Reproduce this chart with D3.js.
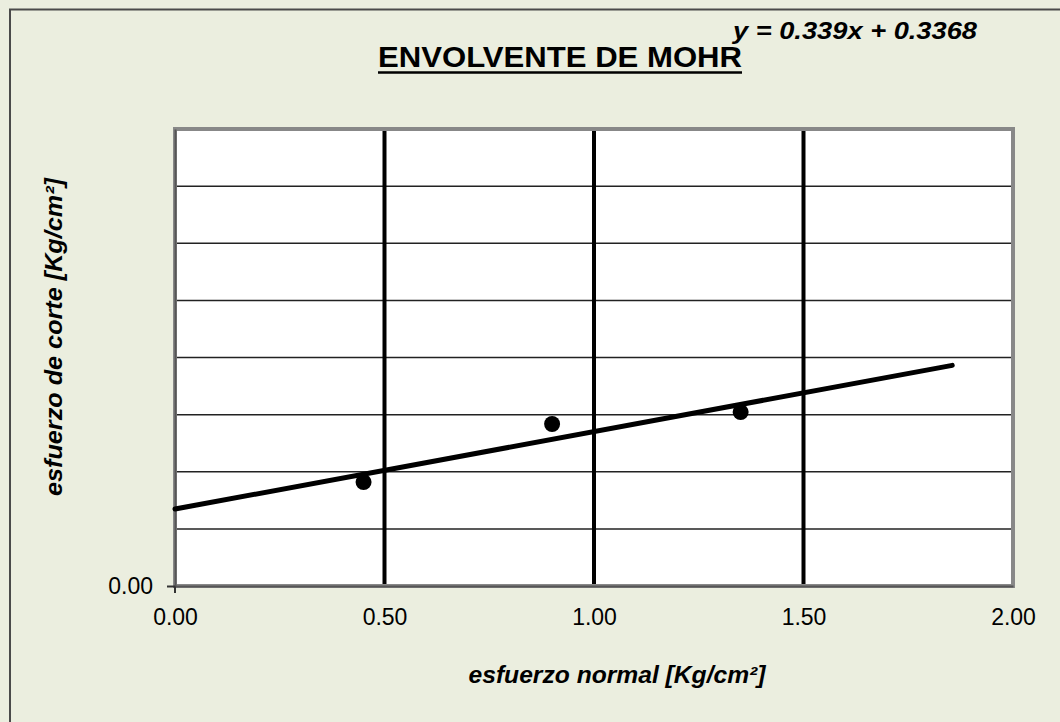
<!DOCTYPE html>
<html>
<head>
<meta charset="utf-8">
<script src="https://cdn.jsdelivr.net/npm/d3@7"></script>
<style>
    html, body { margin: 0; padding: 0; background: #ebeedf; }
    svg { display: block; font-family: "Liberation Sans", Arial, sans-serif; }
</style>
</head>
<body>
<div id="mohr-chart"><svg></svg></div>
<script>
// Data
const chartTitle = "ENVOLVENTE DE MOHR";
const xAxisTitle = "esfuerzo normal [Kg/cm²]";
const yAxisTitle = "esfuerzo de corte [Kg/cm²]";
const xTickValues = [0, 0.5, 1, 1.5, 2];
const yGridValues = [0.25, 0.5, 0.75, 1, 1.25, 1.5, 1.75];
const yTickLabels = [0];
const normalStress = [0.45, 0.90, 1.35];
const shearStress = [0.455, 0.709, 0.761];
const trendSlope = 0.339;
const trendIntercept = 0.3368;
const trendRange = [0, 1.855];
const trendLabel = "y = 0.339x + 0.3368";

(function () {
    // Set dimensions
    const width = 1060;
    const height = 722;
    const plot = { left: 175, right: 1013, top: 129, bottom: 586 };

    const svg = d3.select("#mohr-chart svg")
        .attr("width", width)
        .attr("height", height);

    // Chart area background and frame
    svg.append("rect")
        .attr("x", 0).attr("y", 0)
        .attr("width", width).attr("height", height)
        .attr("fill", "#ebeedf");

    svg.append("path")
        .attr("d", `M10,${height + 5} L10,9.5 L${width + 5},9.5`)
        .attr("fill", "none")
        .attr("stroke", "#4a4a4a")
        .attr("stroke-width", 2);

    // Scales
    const x = d3.scaleLinear().domain([0, 2]).range([plot.left, plot.right]);
    const y = d3.scaleLinear().domain([0, 2]).range([plot.bottom, plot.top]);

    // Plot area
    svg.append("rect")
        .attr("x", plot.left)
        .attr("y", plot.top)
        .attr("width", plot.right - plot.left)
        .attr("height", plot.bottom - plot.top)
        .attr("fill", "white");

    // Horizontal gridlines (thin)
    svg.append("g")
        .selectAll("line")
        .data(yGridValues)
        .join("line")
        .attr("x1", plot.left)
        .attr("x2", plot.right)
        .attr("y1", d => y(d))
        .attr("y2", d => y(d))
        .attr("stroke", "#222")
        .attr("stroke-width", 1.5);

    // Vertical gridlines (thick)
    svg.append("g")
        .selectAll("line")
        .data(xTickValues.filter(d => d > 0 && d < 2))
        .join("line")
        .attr("x1", d => x(d))
        .attr("x2", d => x(d))
        .attr("y1", plot.top)
        .attr("y2", plot.bottom)
        .attr("stroke", "black")
        .attr("stroke-width", 4);

    // Plot border (grey)
    svg.append("rect")
        .attr("x", plot.left)
        .attr("y", plot.top)
        .attr("width", plot.right - plot.left)
        .attr("height", plot.bottom - plot.top)
        .attr("fill", "none")
        .attr("stroke", "#888")
        .attr("stroke-width", 4);

    // X axis
    const xAxis = svg.append("g")
        .attr("transform", `translate(0, ${plot.bottom})`)
        .call(d3.axisBottom(x)
            .tickValues(xTickValues)
            .tickFormat(d3.format(".2f"))
            .tickSize(0)
            .tickPadding(23));
    xAxis.select(".domain")
        .attr("stroke", "#555")
        .attr("stroke-width", 2);
    xAxis.selectAll("text")
        .attr("font-size", "23px")
        .attr("fill", "black");

    // tick mark at origin only
    svg.append("line")
        .attr("x1", x(0)).attr("x2", x(0))
        .attr("y1", plot.bottom).attr("y2", plot.bottom + 7)
        .attr("stroke", "#333").attr("stroke-width", 2);

    // Y axis (only origin label shown)
    const yAxis = svg.append("g")
        .attr("transform", `translate(${plot.left}, 0)`)
        .call(d3.axisLeft(y)
            .tickValues(yTickLabels)
            .tickFormat(d3.format(".2f"))
            .tickSizeInner(8)
            .tickSizeOuter(0)
            .tickPadding(14));
    yAxis.select(".domain")
        .attr("stroke", "#555")
        .attr("stroke-width", 2);
    yAxis.selectAll(".tick line")
        .attr("stroke", "#333")
        .attr("stroke-width", 2);
    yAxis.selectAll("text")
        .attr("font-size", "23px")
        .attr("fill", "black");

    // Trend line
    const line = d3.line()
        .x(d => x(d))
        .y(d => y(trendSlope * d + trendIntercept));

    svg.append("path")
        .datum(trendRange)
        .attr("d", line)
        .attr("fill", "none")
        .attr("stroke", "black")
        .attr("stroke-width", 5)
        .attr("stroke-linecap", "round");

    // Data points
    svg.append("g")
        .selectAll("circle")
        .data(normalStress)
        .join("circle")
        .attr("cx", d => x(d))
        .attr("cy", (d, i) => y(shearStress[i]))
        .attr("r", 8)
        .attr("fill", "black");

    // Title with underline
    svg.append("text")
        .attr("x", 560)
        .attr("y", 67)
        .attr("text-anchor", "middle")
        .attr("font-size", "29px")
        .attr("font-weight", "bold")
        .attr("textLength", 364)
        .attr("lengthAdjust", "spacingAndGlyphs")
        .attr("fill", "black")
        .text(chartTitle);

    svg.append("line")
        .attr("x1", 378).attr("x2", 742)
        .attr("y1", 72.5).attr("y2", 72.5)
        .attr("stroke", "black")
        .attr("stroke-width", 2.5);

    // Trendline equation
    svg.append("text")
        .attr("x", 733)
        .attr("y", 39)
        .attr("font-size", "23px")
        .attr("font-weight", "bold")
        .attr("font-style", "italic")
        .attr("textLength", 244)
        .attr("lengthAdjust", "spacingAndGlyphs")
        .attr("fill", "black")
        .text(trendLabel);

    // Axis titles
    svg.append("text")
        .attr("x", 617)
        .attr("y", 683)
        .attr("text-anchor", "middle")
        .attr("font-size", "23px")
        .attr("font-weight", "bold")
        .attr("font-style", "italic")
        .attr("textLength", 297)
        .attr("lengthAdjust", "spacingAndGlyphs")
        .attr("fill", "black")
        .text(xAxisTitle);

    svg.append("text")
        .attr("transform", "translate(62, 337) rotate(-90)")
        .attr("text-anchor", "middle")
        .attr("font-size", "23px")
        .attr("font-weight", "bold")
        .attr("font-style", "italic")
        .attr("textLength", 318)
        .attr("lengthAdjust", "spacingAndGlyphs")
        .attr("fill", "black")
        .text(yAxisTitle);
})();
</script>
</body>
</html>
